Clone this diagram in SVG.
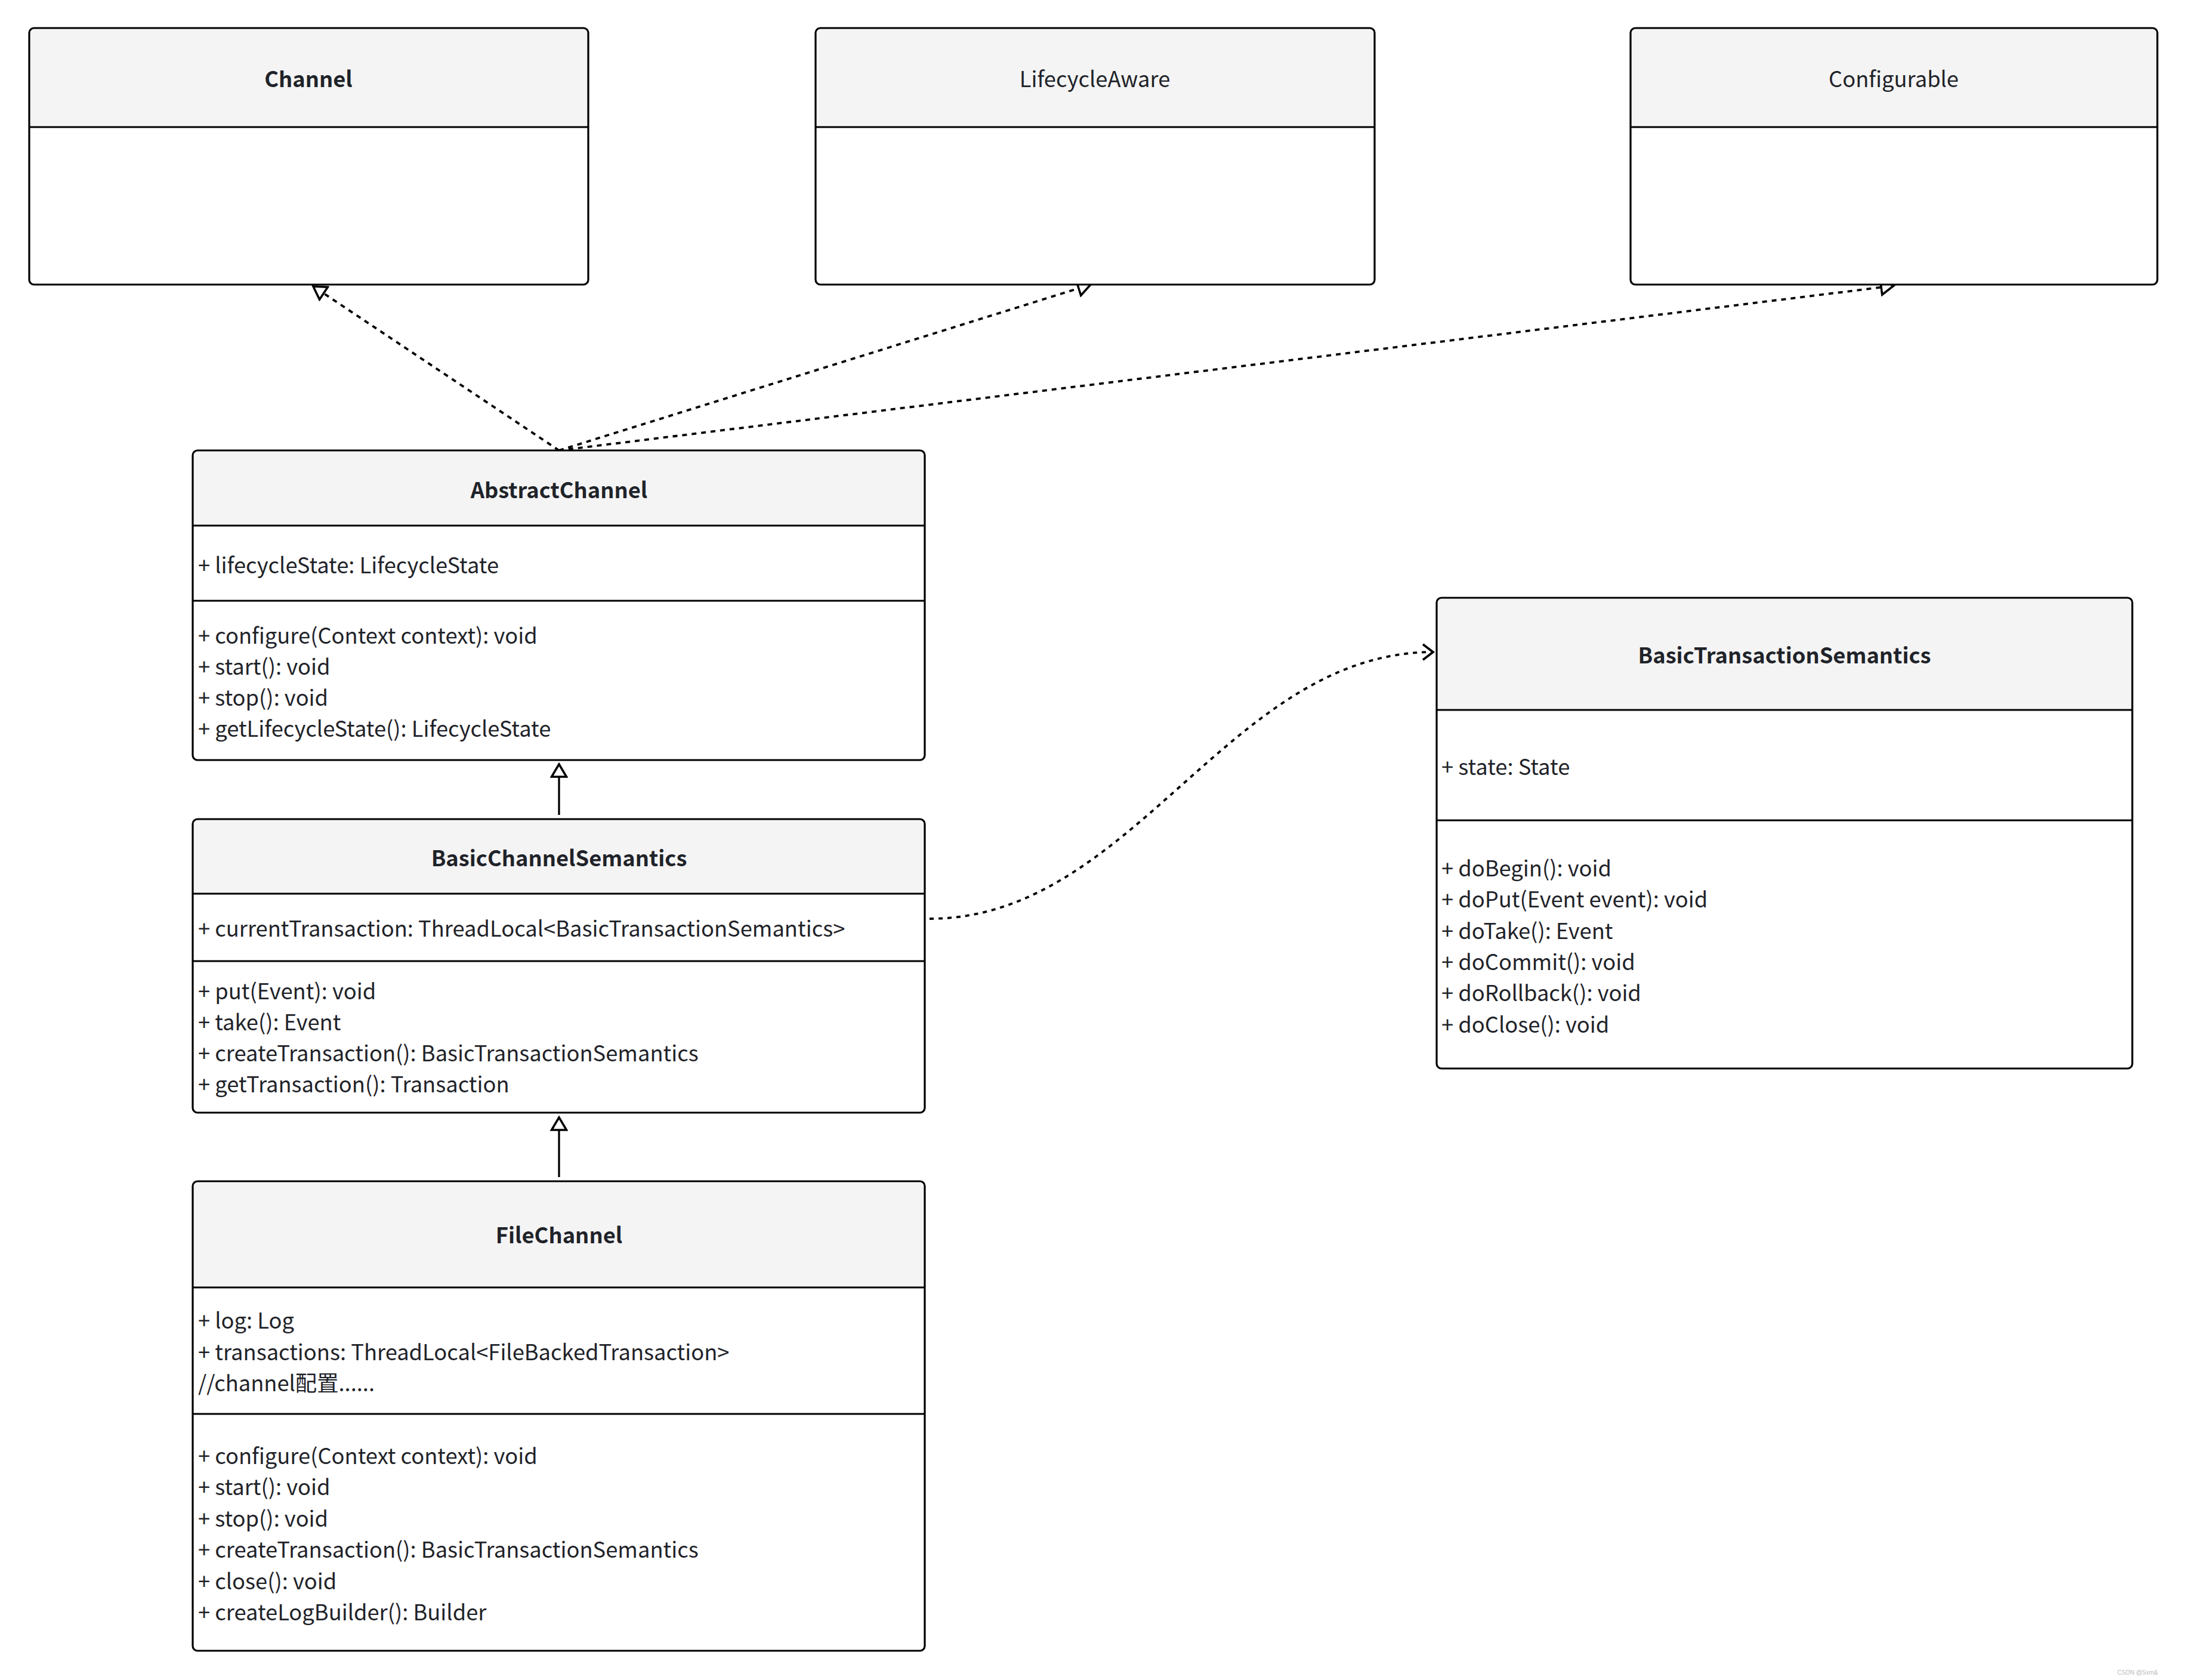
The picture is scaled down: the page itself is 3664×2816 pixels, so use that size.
<svg xmlns="http://www.w3.org/2000/svg" width="3664" height="2816" viewBox="0 0 3664 2816">
<style>
.bg{fill:#ffffff;stroke:none}
.hd{fill:#f4f4f4;stroke:none}
.bd{fill:none;stroke:#000;stroke-width:3.2}
.dv{stroke:#000;stroke-width:3.2}
.t{font-family:"Noto Sans CJK SC","Noto Sans",sans-serif;fill:#1f2329;dominant-baseline:central}
.ti{font-size:36.3px;text-anchor:middle}
.b{font-weight:bold}
.m{font-size:36.3px}
.ln{fill:none;stroke:#000;stroke-width:3.3}
.dash{stroke-width:3.8;stroke-dasharray:8 8}
.dot{stroke-width:3.8;stroke-dasharray:7 8}
</style>
<defs>
<marker id="tri" markerUnits="userSpaceOnUse" viewBox="0 0 26 30" refX="23" refY="15" markerWidth="26" markerHeight="30" orient="auto">
<path d="M23 15 L2 2.5 L2 27.5 Z" fill="#fff" stroke="#000" stroke-width="3.6" stroke-linejoin="miter"/>
</marker>
<marker id="open" markerUnits="userSpaceOnUse" viewBox="0 0 24 30" refX="20" refY="15" markerWidth="24" markerHeight="30" orient="auto">
<path d="M3 2 L20 15 L3 28" fill="none" stroke="#000" stroke-width="3.8"/>
</marker>
</defs>
<rect x="0" y="0" width="3664" height="2816" fill="#fff"/>

<g id="connectors">
<path class="ln dash" d="M937 755 L525 480" marker-end="url(#tri)"/>
<path class="ln dash" d="M937 755 L1828 477" marker-end="url(#tri)"/>
<path class="ln dash" d="M937 755 L3174 479" marker-end="url(#tri)"/>
<path class="ln" d="M937 1366 L937 1281" marker-end="url(#tri)"/>
<path class="ln" d="M937 1973 L937 1873" marker-end="url(#tri)"/>
<path class="ln dot" d="M1558 1540 C1900 1540 2060 1093 2402 1093" marker-end="url(#open)"/>
</g>

<g id="Channel">
<rect class="bg" x="49" y="47" width="937" height="430" rx="8"/>
<path class="hd" d="M49 213 L49 55 Q49 47 57 47 L978 47 Q986 47 986 55 L986 213 Z"/>
<line class="dv" x1="49" y1="213" x2="986" y2="213"/>
<rect class="bd" x="49" y="47" width="937" height="430" rx="8"/>
<text class="t ti b" x="517" y="130">Channel</text>
</g>

<g id="LifecycleAware">
<rect class="bg" x="1367" y="47" width="937" height="430" rx="8"/>
<path class="hd" d="M1367 213 L1367 55 Q1367 47 1375 47 L2296 47 Q2304 47 2304 55 L2304 213 Z"/>
<line class="dv" x1="1367" y1="213" x2="2304" y2="213"/>
<rect class="bd" x="1367" y="47" width="937" height="430" rx="8"/>
<text class="t ti" x="1835" y="130">LifecycleAware</text>
</g>

<g id="Configurable">
<rect class="bg" x="2733" y="47" width="883" height="430" rx="8"/>
<path class="hd" d="M2733 213 L2733 55 Q2733 47 2741 47 L3608 47 Q3616 47 3616 55 L3616 213 Z"/>
<line class="dv" x1="2733" y1="213" x2="3616" y2="213"/>
<rect class="bd" x="2733" y="47" width="883" height="430" rx="8"/>
<text class="t ti" x="3174" y="130">Configurable</text>
</g>

<g id="AbstractChannel">
<rect class="bg" x="323" y="755" width="1227" height="519" rx="8"/>
<path class="hd" d="M323 881 L323 763 Q323 755 331 755 L1542 755 Q1550 755 1550 763 L1550 881 Z"/>
<line class="dv" x1="323" y1="881" x2="1550" y2="881"/>
<line class="dv" x1="323" y1="1007" x2="1550" y2="1007"/>
<rect class="bd" x="323" y="755" width="1227" height="519" rx="8"/>
<text class="t ti b" x="937" y="819">AbstractChannel</text>
<text class="t m" x="332" y="945">+ lifecycleState: LifecycleState</text>
<text class="t m" x="332" y="1063">+ configure(Context context): void</text>
<text class="t m" x="332" y="1115">+ start(): void</text>
<text class="t m" x="332" y="1167">+ stop(): void</text>
<text class="t m" x="332" y="1219">+ getLifecycleState(): LifecycleState</text>
</g>

<g id="BasicChannelSemantics">
<rect class="bg" x="323" y="1373" width="1227" height="492" rx="8"/>
<path class="hd" d="M323 1498 L323 1381 Q323 1373 331 1373 L1542 1373 Q1550 1373 1550 1381 L1550 1498 Z"/>
<line class="dv" x1="323" y1="1498" x2="1550" y2="1498"/>
<line class="dv" x1="323" y1="1611" x2="1550" y2="1611"/>
<rect class="bd" x="323" y="1373" width="1227" height="492" rx="8"/>
<text class="t ti b" x="937" y="1436">BasicChannelSemantics</text>
<text class="t m" x="332" y="1554">+ currentTransaction: ThreadLocal&lt;BasicTransactionSemantics&gt;</text>
<text class="t m" x="332" y="1659">+ put(Event): void</text>
<text class="t m" x="332" y="1711">+ take(): Event</text>
<text class="t m" x="332" y="1763">+ createTransaction(): BasicTransactionSemantics</text>
<text class="t m" x="332" y="1815">+ getTransaction(): Transaction</text>
</g>

<g id="FileChannel">
<rect class="bg" x="323" y="1980" width="1227" height="787" rx="8"/>
<path class="hd" d="M323 2158 L323 1988 Q323 1980 331 1980 L1542 1980 Q1550 1980 1550 1988 L1550 2158 Z"/>
<line class="dv" x1="323" y1="2158" x2="1550" y2="2158"/>
<line class="dv" x1="323" y1="2370" x2="1550" y2="2370"/>
<rect class="bd" x="323" y="1980" width="1227" height="787" rx="8"/>
<text class="t ti b" x="937" y="2068">FileChannel</text>
<text class="t m" x="332" y="2211">+ log: Log</text>
<text class="t m" x="332" y="2264">+ transactions: ThreadLocal&lt;FileBackedTransaction&gt;</text>
<text class="t m" x="332" y="2316">//channel配置......</text>
<text class="t m" x="332" y="2438">+ configure(Context context): void</text>
<text class="t m" x="332" y="2490">+ start(): void</text>
<text class="t m" x="332" y="2543">+ stop(): void</text>
<text class="t m" x="332" y="2595">+ createTransaction(): BasicTransactionSemantics</text>
<text class="t m" x="332" y="2648">+ close(): void</text>
<text class="t m" x="332" y="2700">+ createLogBuilder(): Builder</text>
</g>

<g id="BasicTransactionSemantics">
<rect class="bg" x="2408" y="1002" width="1166" height="789" rx="8"/>
<path class="hd" d="M2408 1190 L2408 1010 Q2408 1002 2416 1002 L3566 1002 Q3574 1002 3574 1010 L3574 1190 Z"/>
<line class="dv" x1="2408" y1="1190" x2="3574" y2="1190"/>
<line class="dv" x1="2408" y1="1375" x2="3574" y2="1375"/>
<rect class="bd" x="2408" y="1002" width="1166" height="789" rx="8"/>
<text class="t ti b" x="2991" y="1096">BasicTransactionSemantics</text>
<text class="t m" x="2416" y="1283">+ state: State</text>
<text class="t m" x="2416" y="1453">+ doBegin(): void</text>
<text class="t m" x="2416" y="1505">+ doPut(Event event): void</text>
<text class="t m" x="2416" y="1558">+ doTake(): Event</text>
<text class="t m" x="2416" y="1610">+ doCommit(): void</text>
<text class="t m" x="2416" y="1662">+ doRollback(): void</text>
<text class="t m" x="2416" y="1715">+ doClose(): void</text>
</g>

<text x="3617" y="2803" font-family="Liberation Sans, sans-serif" font-size="10" fill="#bbbbbb" text-anchor="end" dominant-baseline="central">CSDN @Sxm&amp;</text>
</svg>
